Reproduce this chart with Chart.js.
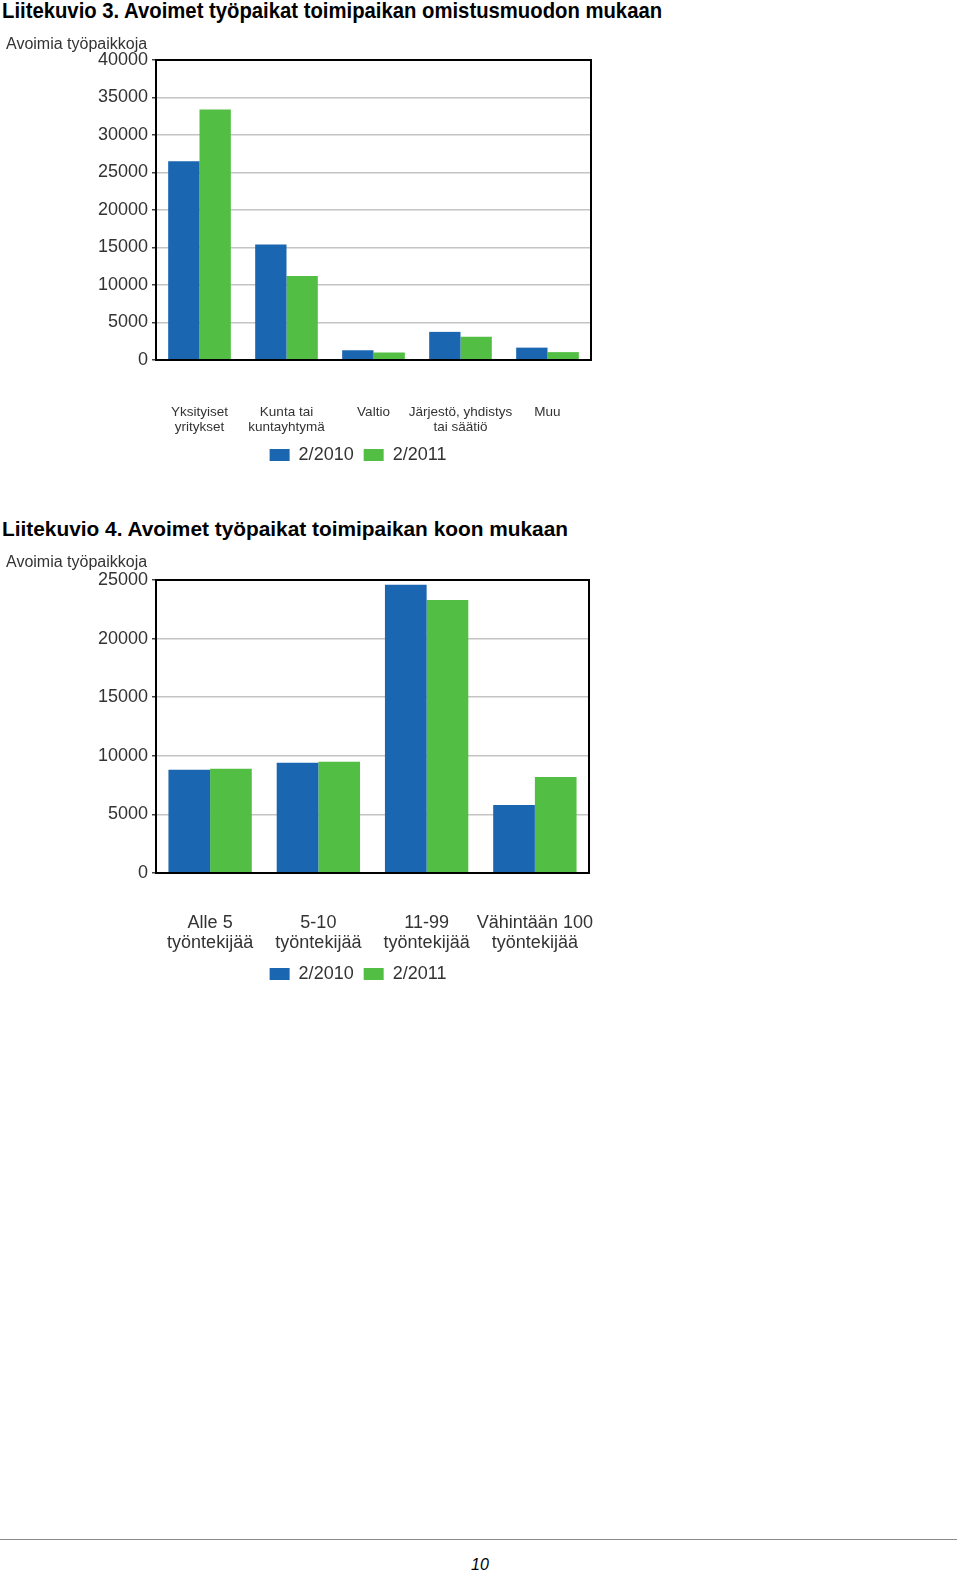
<!DOCTYPE html>
<html>
<head>
<meta charset="utf-8">
<script src="https://cdn.jsdelivr.net/npm/chart.js@4"></script>
<style>
  body { margin: 0; background: #fff; width: 960px; height: 1572px; position: relative; font-family: "Liberation Sans", Arial, sans-serif; }
  h2 { position: absolute; left: 2px; margin: 0; font-weight: bold; color: #000; white-space: nowrap; }
  .h3 { top: -1px; font-size: 22px; line-height: 24px; transform: scaleX(0.922); transform-origin: left center; }
  .h4 { top: 518px; font-size: 20.85px; line-height: 22px; }
  canvas { position: absolute; left: 0; }
  .rule { position: absolute; left: 0; top: 1539px; width: 957px; height: 0; border-top: 1px solid #8a8a8a; }
  .page { position: absolute; left: 0; width: 960px; top: 1556px; text-align: center; font-style: italic; font-size: 16px; line-height: 18px; }
</style>
</head>
<body>
<h2 class="h3">Liitekuvio 3. Avoimet työpaikat toimipaikan omistusmuodon mukaan</h2>
<canvas id="ownerChart" width="710" height="442" style="top:32px"></canvas>
<h2 class="h4">Liitekuvio 4. Avoimet työpaikat toimipaikan koon mukaan</h2>
<canvas id="sizeChart" width="710" height="443" style="top:550px"></canvas>
<div class="rule"></div>
<div class="page">10</div>
<script>
// data
const seriesNames = ['2/2010', '2/2011'];

const ownerLabels = [['Yksityiset', 'yritykset'], ['Kunta tai', 'kuntayhtymä'], 'Valtio', ['Järjestö, yhdistys', 'tai säätiö'], 'Muu'];
const owner2010 = [26500, 15400, 1300, 3750, 1650];
const owner2011 = [33400, 11200, 1000, 3100, 1050];

const sizeLabels = [['Alle 5', 'työntekijää'], ['5-10', 'työntekijää'], ['11-99', 'työntekijää'], ['Vähintään 100', 'työntekijää']];
const size2010 = [8800, 9400, 24600, 5800];
const size2011 = [8900, 9500, 23300, 8200];

const yTitle = 'Avoimia työpaikkoja';
const blue = '#1a66b0';
const green = '#52bf44';
const font = '"Liberation Sans", Arial, sans-serif';

// black frame round the plot area
const frame = {
    id: 'frame',
    afterDraw(chart) {
        const a = chart.chartArea;
        const ctx = chart.ctx;
        ctx.save();
        ctx.strokeStyle = '#000';
        ctx.lineWidth = 2;
        ctx.strokeRect(a.left, a.top, a.right - a.left, a.bottom - a.top);
        ctx.restore();
    }
};

function makeChart(id, labels, d2010, d2011, opts) {
    const ctx = document.getElementById(id).getContext('2d');
    return new Chart(ctx, {
        type: 'bar',
        data: {
            labels: labels,
            datasets: [
                { label: seriesNames[0], data: d2010, backgroundColor: blue, barPercentage: 1, categoryPercentage: opts.catPct },
                { label: seriesNames[1], data: d2011, backgroundColor: green, barPercentage: 1, categoryPercentage: opts.catPct }
            ]
        },
        options: {
            responsive: false,
            animation: false,
            layout: { padding: { left: 6, right: 0, top: 0, bottom: 0 } },
            plugins: {
                title: {
                    display: true,
                    text: yTitle,
                    align: 'start',
                    color: '#333',
                    font: { family: font, size: 16, weight: 'normal' },
                    padding: { top: 3, bottom: opts.titleGap }
                },
                legend: {
                    position: 'bottom',
                    labels: {
                        boxWidth: 20,
                        boxHeight: 12,
                        padding: 10,
                        color: '#333',
                        font: { family: font, size: 18 }
                    }
                },
                tooltip: { enabled: false }
            },
            scales: {
                x: {
                    grid: { display: false, drawTicks: false },
                    border: { display: false },
                    ticks: {
                        autoSkip: false,
                        maxRotation: 0,
                        padding: opts.xPad,
                        color: '#333',
                        font: { family: font, size: opts.xFont, lineHeight: opts.xLine }
                    },
                    afterFit(scale) { scale.height = opts.xHeight; }
                },
                y: {
                    min: 0,
                    max: opts.yMax,
                    border: { display: false },
                    grid: { color: '#c4c4c4', lineWidth: 1.5, tickLength: 4, tickColor: '#444' },
                    ticks: {
                        stepSize: 5000,
                        padding: 4,
                        color: '#333',
                        font: { family: font, size: 18 },
                        callback: (v) => String(v)
                    },
                    afterFit(scale) { scale.width = 150; }
                },
                yr: {
                    position: 'right',
                    grid: { display: false },
                    border: { display: false },
                    ticks: { display: false },
                    afterFit(scale) { scale.width = opts.rightGap; }
                }
            }
        },
        plugins: [frame]
    });
}

makeChart('ownerChart', ownerLabels, owner2010, owner2011, {
    catPct: 0.72, yMax: 40000, titleGap: 5.8,
    xFont: 13.5, xLine: '15px', xPad: 45, xHeight: 76, rightGap: 119
});

makeChart('sizeChart', sizeLabels, size2010, size2011, {
    catPct: 0.77, yMax: 25000, titleGap: 7.8,
    xFont: 18, xLine: '20px', xPad: 40, xHeight: 82, rightGap: 121
});
</script>
</body>
</html>
